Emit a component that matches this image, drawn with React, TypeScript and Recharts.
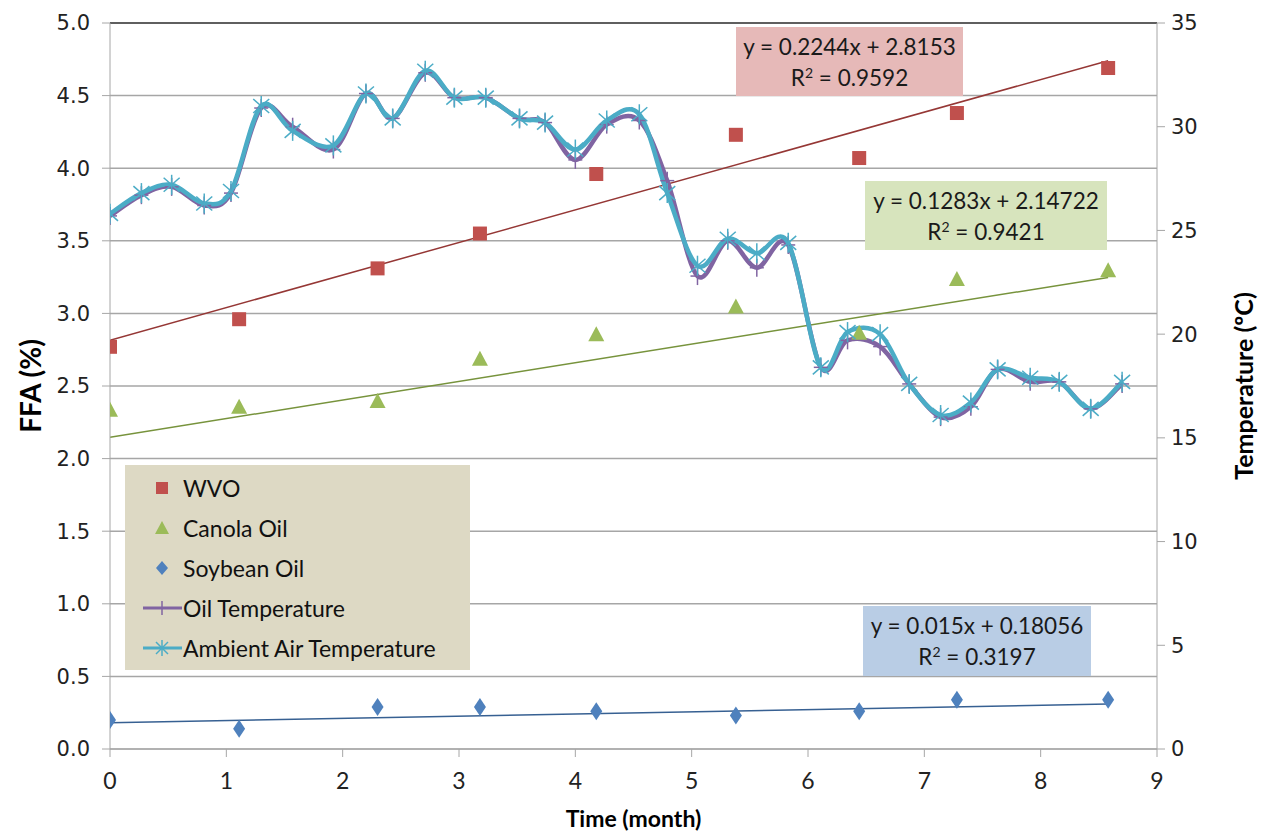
import React from 'react'
import {
  ComposedChart,
  CartesianGrid,
  Line,
  ReferenceLine,
  Scatter,
  XAxis,
  YAxis,
} from 'recharts'

// FFA sampling months and measured free fatty acid (%)
const ffaMonths = [0, 1.11, 2.3, 3.18, 4.18, 5.38, 6.44, 7.28, 8.58]
const wvoFfa = [2.77, 2.96, 3.31, 3.55, 3.96, 4.23, 4.07, 4.38, 4.69]
const canolaFfa = [2.33, 2.35, 2.39, 2.68, 2.85, 3.04, 2.86, 3.23, 3.29]
const soybeanFfa = [0.2, 0.14, 0.29, 0.29, 0.26, 0.23, 0.26, 0.34, 0.34]

// temperature log (ºC)
const tempMonths = [
  0, 0.27, 0.53, 0.81, 1.04, 1.3, 1.57, 1.92, 2.2, 2.43, 2.71, 2.96, 3.23, 3.52, 3.74, 4.0, 4.27,
  4.55, 4.79, 5.05, 5.31, 5.56, 5.83, 6.11, 6.34, 6.62, 6.87, 7.14, 7.4, 7.63, 7.91, 8.16, 8.43, 8.7,
]
const ambientTemp = [
  25.8, 26.8, 27.2, 26.3, 26.9, 31.0, 29.8, 29.1, 31.6, 30.4, 32.7, 31.4, 31.4, 30.4, 30.2, 28.9,
  30.3, 30.6, 26.8, 23.3, 24.6, 23.9, 24.4, 18.4, 20.1, 20.0, 17.6, 16.1, 16.7, 18.3, 17.9, 17.7,
  16.4, 17.7,
]
const oilTemp = [
  25.7, 26.7, 27.1, 26.2, 26.8, 30.9, 30.0, 28.9, 31.6, 30.4, 32.6, 31.4, 31.4, 30.4, 30.2, 28.4,
  30.1, 30.3, 27.4, 22.8, 24.5, 23.2, 24.3, 18.4, 19.7, 19.4, 17.6, 16.0, 16.5, 18.3, 17.7, 17.7,
  16.4, 17.6,
]

// linear trendlines: slope, intercept, R²
const wvoFit = [0.2244, 2.8153, 0.9592]
const canolaFit = [0.1283, 2.14722, 0.9421]
const soybeanFit = [0.015, 0.18056, 0.3197]

const ffaTicks = [0, 0.5, 1, 1.5, 2, 2.5, 3, 3.5, 4, 4.5, 5]
const tempTicks = [0, 5, 10, 15, 20, 25, 30, 35]
const monthTicks = [0, 1, 2, 3, 4, 5, 6, 7, 8, 9]

const RED = '#C0504D'
const GREEN = '#9BBB59'
const BLUE = '#4F81BD'
const PURPLE = '#8064A2'
const CYAN = '#4BACC6'

const toFfa = (vals: number[]) => ffaMonths.map((month, i) => ({ month, ffa: vals[i] }))
const toTemp = (vals: number[]) => tempMonths.map((month, i) => ({ month, temp: vals[i] }))
const fitLine = ([m, b]: number[]) => {
  const end = ffaMonths[ffaMonths.length - 1]
  return [
    { month: 0, ffa: b },
    { month: end, ffa: m * end + b },
  ]
}

// Catmull-Rom style smoothing, close to the spreadsheet "smoothed line"
const smoothCurve = (ctx: any) => {
  let pts: [number, number][] = []
  return {
    areaStart() {},
    areaEnd() {},
    lineStart() {
      pts = []
    },
    point(x: number, y: number) {
      pts.push([x, y])
    },
    lineEnd() {
      if (!pts.length) return
      ctx.moveTo(pts[0][0], pts[0][1])
      for (let i = 0; i < pts.length - 1; i++) {
        const p0 = pts[Math.max(i - 1, 0)]
        const p1 = pts[i]
        const p2 = pts[i + 1]
        const p3 = pts[Math.min(i + 2, pts.length - 1)]
        ctx.bezierCurveTo(
          p1[0] + (p2[0] - p0[0]) / 6,
          p1[1] + (p2[1] - p0[1]) / 6,
          p2[0] - (p3[0] - p1[0]) / 6,
          p2[1] - (p3[1] - p1[1]) / 6,
          p2[0],
          p2[1],
        )
      }
    },
  }
}

const Square = ({ cx, cy }: any) => <rect x={cx - 7} y={cy - 7} width={14} height={14} fill={RED} />
const Triangle = ({ cx, cy }: any) => (
  <polygon points={`${cx},${cy - 9} ${cx + 8},${cy + 6} ${cx - 8},${cy + 6}`} fill={GREEN} />
)
const Diamond = ({ cx, cy }: any) => (
  <polygon points={`${cx},${cy - 9} ${cx + 6},${cy} ${cx},${cy + 9} ${cx - 6},${cy}`} fill={BLUE} />
)

const plusDot = (props: any) => {
  const { cx, cy, index } = props
  return (
    <g key={`p${index}`} stroke={PURPLE} strokeWidth={1.5}>
      <line x1={cx - 7} y1={cy} x2={cx + 7} y2={cy} />
      <line x1={cx} y1={cy - 9} x2={cx} y2={cy + 9} />
    </g>
  )
}

const starDot = (props: any) => {
  const { cx, cy, index } = props
  return (
    <g key={`s${index}`} stroke={CYAN} strokeWidth={1.5}>
      <line x1={cx - 8} y1={cy - 7} x2={cx + 8} y2={cy + 7} />
      <line x1={cx - 8} y1={cy + 7} x2={cx + 8} y2={cy - 7} />
      <line x1={cx} y1={cy - 10} x2={cx} y2={cy + 10} />
    </g>
  )
}

const legendRows = [
  { name: 'WVO', icon: 'square' },
  { name: 'Canola Oil', icon: 'triangle' },
  { name: 'Soybean Oil', icon: 'diamond' },
  { name: 'Oil Temperature', icon: 'plus' },
  { name: 'Ambient Air Temperature', icon: 'star' },
]

const LegendIcon = ({ icon }: { icon: string }) => (
  <svg width={42} height={24} style={{ flex: 'none' }}>
    {icon === 'square' && <rect x={15} y={6} width={12} height={12} fill={RED} />}
    {icon === 'triangle' && <polygon points="21,5 28,18 14,18" fill={GREEN} />}
    {icon === 'diamond' && <polygon points="21,5 27,12 21,19 15,12" fill={BLUE} />}
    {icon === 'plus' && (
      <g stroke={PURPLE}>
        <line x1={2} y1={12} x2={41} y2={12} strokeWidth={3} />
        <line x1={21} y1={5} x2={21} y2={19} strokeWidth={1.5} />
      </g>
    )}
    {icon === 'star' && (
      <g stroke={CYAN}>
        <line x1={2} y1={12} x2={41} y2={12} strokeWidth={3} />
        <g strokeWidth={1.5}>
          <line x1={15} y1={6} x2={27} y2={18} />
          <line x1={15} y1={18} x2={27} y2={6} />
          <line x1={21} y1={4} x2={21} y2={20} />
        </g>
      </g>
    )}
  </svg>
)

const LegendBox = () => (
  <div
    style={{
      position: 'absolute',
      left: 125,
      top: 465,
      background: '#DDD9C4',
      width: 345,
      height: 205,
      boxSizing: 'border-box',
      padding: '3px 0 0 16px',
      fontFamily: 'Lato, sans-serif',
      fontSize: 23,
      color: '#111',
    }}
  >
    {legendRows.map((r) => (
      <div key={r.name} style={{ display: 'flex', alignItems: 'center', height: 40 }}>
        <LegendIcon icon={r.icon} />
        <span>{r.name}</span>
      </div>
    ))}
  </div>
)

const EquationBox = ({
  fit,
  bg,
  left,
  top,
  width,
  height,
}: {
  fit: number[]
  bg: string
  left: number
  top: number
  width: number
  height: number
}) => (
  <div
    style={{
      position: 'absolute',
      left,
      top,
      width,
      height,
      background: bg,
      fontFamily: 'Lato, sans-serif',
      fontSize: 22.5,
      color: '#1a1a1a',
      textAlign: 'center',
      lineHeight: '31px',
      paddingTop: 4,
      boxSizing: 'border-box',
      whiteSpace: 'nowrap',
    }}
  >
    <div>{`y = ${fit[0]}x + ${fit[1]}`}</div>
    <div>
      R<sup style={{ fontSize: 14, verticalAlign: 'top', lineHeight: '22px' }}>2</sup> = {fit[2]}
    </div>
  </div>
)

const axisTitle = { fontFamily: 'Lato, sans-serif', fontWeight: 700, fontSize: 25, fill: '#000' }
const tickStyle = { fontFamily: 'DejaVu Sans, sans-serif', fontSize: 21, fill: '#222' }

export default function App() {
  return (
    <div style={{ position: 'absolute', left: 0, top: 0, width: 1262, height: 835, background: '#fff' }}>
      <ComposedChart width={1262} height={835} margin={{ top: 23, right: 0, bottom: 0, left: 0 }}>
        <CartesianGrid yAxisId="ffa" vertical={false} stroke="#A6A6A6" strokeWidth={1.5} />
        <XAxis
          type="number"
          dataKey="month"
          domain={[0, 9]}
          ticks={monthTicks}
          allowDataOverflow
          height={86}
          stroke="#A6A6A6"
          tickSize={8}
          tickMargin={16}
          tick={{ ...tickStyle, fontFamily: 'Lato, sans-serif', fontSize: 23 }}
          label={(p: any) => (
            <text
              x={p.viewBox.x + p.viewBox.width / 2}
              y={p.viewBox.y + 78}
              textAnchor="middle"
              style={{ ...axisTitle, fontSize: 23 }}
            >
              Time (month)
            </text>
          )}
        />
        <YAxis
          yAxisId="ffa"
          domain={[0, 5]}
          ticks={ffaTicks}
          width={110}
          stroke="#A6A6A6"
          tickSize={8}
          tickMargin={12}
          tick={tickStyle}
          tickFormatter={(v: number) => v.toFixed(1)}
          label={(p: any) => {
            const cx = 30
            const cy = p.viewBox.y + p.viewBox.height / 2
            return (
              <text x={cx} y={cy} transform={`rotate(-90 ${cx} ${cy})`} textAnchor="middle" dominantBaseline="central" style={{ ...axisTitle, fontSize: 28 }}>
                FFA (%)
              </text>
            )
          }}
        />
        <YAxis
          yAxisId="temp"
          orientation="right"
          domain={[0, 35]}
          ticks={tempTicks}
          width={105}
          stroke="#A6A6A6"
          tickSize={8}
          tickMargin={6}
          tick={tickStyle}
          label={(p: any) => {
            const cx = 1243
            const cy = p.viewBox.y + p.viewBox.height / 2
            return (
              <text x={cx} y={cy} transform={`rotate(-90 ${cx} ${cy})`} textAnchor="middle" dominantBaseline="central" style={axisTitle}>
                Temperature (ºC)
              </text>
            )
          }}
        />
        <ReferenceLine yAxisId="ffa" y={5} stroke="#404040" strokeWidth={1.5} />

        <Line yAxisId="ffa" data={fitLine(wvoFit)} dataKey="ffa" stroke="#953735" strokeWidth={1.5} dot={false} isAnimationActive={false} />
        <Line yAxisId="ffa" data={fitLine(canolaFit)} dataKey="ffa" stroke="#77933C" strokeWidth={1.5} dot={false} isAnimationActive={false} />
        <Line yAxisId="ffa" data={fitLine(soybeanFit)} dataKey="ffa" stroke="#376092" strokeWidth={1.5} dot={false} isAnimationActive={false} />

        <Scatter yAxisId="ffa" name="WVO" data={toFfa(wvoFfa)} dataKey="ffa" shape={Square} isAnimationActive={false} />
        <Scatter yAxisId="ffa" name="Canola Oil" data={toFfa(canolaFfa)} dataKey="ffa" shape={Triangle} isAnimationActive={false} />
        <Scatter yAxisId="ffa" name="Soybean Oil" data={toFfa(soybeanFfa)} dataKey="ffa" shape={Diamond} isAnimationActive={false} />

        <Line
          yAxisId="temp"
          name="Oil Temperature"
          data={toTemp(oilTemp)}
          dataKey="temp"
          type={smoothCurve as any}
          stroke={PURPLE}
          strokeWidth={4.5}
          dot={plusDot}
          isAnimationActive={false}
        />
        <Line
          yAxisId="temp"
          name="Ambient Air Temperature"
          data={toTemp(ambientTemp)}
          dataKey="temp"
          type={smoothCurve as any}
          stroke={CYAN}
          strokeWidth={4.5}
          dot={starDot}
          isAnimationActive={false}
        />
      </ComposedChart>

      <LegendBox />
      <EquationBox fit={wvoFit} bg="#E6B9B8" left={736} top={27} width={227} height={69} />
      <EquationBox fit={canolaFit} bg="#D7E4BD" left={865} top={181} width={242} height={69} />
      <EquationBox fit={soybeanFit} bg="#B9CDE5" left={863} top={606} width={228} height={70} />
    </div>
  )
}
